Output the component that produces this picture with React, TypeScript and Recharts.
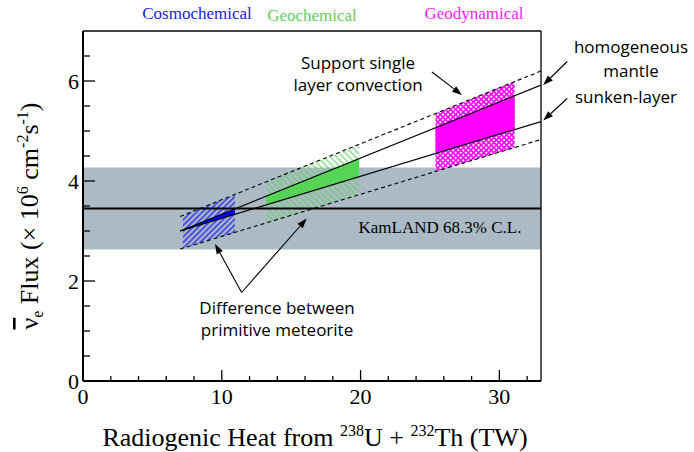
import React from "react";
import {
  ComposedChart,
  Area,
  Line,
  XAxis,
  YAxis,
  ReferenceArea,
  ReferenceLine,
} from "recharts";

// model lines (heat in TW, flux in 10^6 cm^-2 s^-1)
const lineHeat = [7, 33];
const homogeneousFlux = [3.0, 5.92];
const sunkenFlux = [3.0, 5.19];
const upperFlux = [3.29, 6.2];
const lowerFlux = [2.64, 4.83];

// Cosmochemical
const cosmoHeat = [7.2, 10.95];
const cosmoOuterLow = [2.66, 2.97];
const cosmoOuterHigh = [3.31, 3.73];
const cosmoCoreHeat = [7.0, 10.95];
const cosmoCoreLow = [3.0, 3.33];
const cosmoCoreHigh = [3.0, 3.44];

// Geochemical
const geoChemHeat = [13.2, 19.9];
const geoChemOuterLow = [3.16, 3.73];
const geoChemOuterHigh = [3.98, 4.73];
const geoChemCoreLow = [3.52, 4.09];
const geoChemCoreHigh = [3.7, 4.45];

// Geodynamical
const geoDynHeat = [25.4, 31.1];
const geoDynOuterLow = [4.19, 4.67];
const geoDynOuterHigh = [5.35, 5.99];
const geoDynCoreLow = [4.55, 5.03];
const geoDynCoreHigh = [5.07, 5.71];

// KamLAND measurement
const kamlandCentral = 3.45;
const kamlandLow = 2.63;
const kamlandHigh = 4.27;

const xTicks = [0, 2, 4, 6, 8, 10, 12, 14, 16, 18, 20, 22, 24, 26, 28, 30, 32];
const yTicks = [0, 0.5, 1, 1.5, 2, 2.5, 3, 3.5, 4, 4.5, 5, 5.5, 6, 6.5];

// arrows: [fromHeat, fromFlux, toHeat, toFlux]
const arrows = [
  [25.14, 6.18, 27.31, 5.72],
  [34.89, 6.39, 33.16, 5.92],
  [34.89, 5.65, 33.16, 5.21],
  [11.43, 1.77, 9.51, 2.74],
  [11.43, 1.77, 16.12, 3.25],
];

const SERIF = "'Liberation Serif', 'Times New Roman', serif";
const SANS = "'Open Sans', 'DejaVu Sans', sans-serif";

const toLine = (xs: number[], ys: number[]) => xs.map((x, i) => ({ x, y: ys[i] }));
const toRange = (xs: number[], lo: number[], hi: number[]) =>
  xs.map((x, i) => ({ x, range: [lo[i], hi[i]] }));

const XTick = (props: any) => {
  const { x, y, payload } = props;
  const v = payload.value;
  const major = v % 10 === 0;
  return (
    <g>
      <line x1={x} x2={x} y1={y} y2={y - (major ? 11 : 5)} stroke="#000" strokeWidth={1.3} />
      {major && (
        <text x={x} y={y + 23} textAnchor="middle" fontFamily={SERIF} fontSize={22} fill="#000">
          {v}
        </text>
      )}
    </g>
  );
};

const YTick = (props: any) => {
  const { x, y, payload } = props;
  const v = payload.value;
  const major = v % 2 === 0;
  return (
    <g>
      <line x1={x} x2={x + (major ? 12 : 7)} y1={y} y2={y} stroke="#000" strokeWidth={1.3} />
      {major && (
        <text x={x - 4} y={y + 8} textAnchor="end" fontFamily={SERIF} fontSize={22} fill="#000">
          {v}
        </text>
      )}
    </g>
  );
};

const Arrow = (props: any) => {
  const { x1, y1, x2, y2 } = props;
  const dx = x2 - x1;
  const dy = y2 - y1;
  const len = Math.sqrt(dx * dx + dy * dy) || 1;
  const ux = dx / len;
  const uy = dy / len;
  const hl = 10;
  const hw = 3.5;
  const bx = x2 - ux * hl;
  const by = y2 - uy * hl;
  return (
    <g>
      <line x1={x1} y1={y1} x2={bx} y2={by} stroke="#000" strokeWidth={1.1} />
      <polygon
        points={`${x2},${y2} ${bx - uy * hw},${by + ux * hw} ${bx + uy * hw},${by - ux * hw}`}
        fill="#000"
      />
    </g>
  );
};

export default function App() {
  return (
    <div style={{ position: "absolute", left: 0, top: 0 }}>
      <ComposedChart width={694} height={452} margin={{ top: 31, right: 153, bottom: 0, left: 0 }}>
        <defs>
          <pattern id="blueHatch" width="4" height="4" patternUnits="userSpaceOnUse" patternTransform="rotate(45)">
            <line x1="1" y1="0" x2="1" y2="4" stroke="#0000ff" strokeWidth="1.1" />
          </pattern>
          <pattern id="greenHatch" width="4.5" height="4.5" patternUnits="userSpaceOnUse" patternTransform="rotate(-45)">
            <line x1="1" y1="0" x2="1" y2="4.5" stroke="#5fd35f" strokeWidth="1.1" />
          </pattern>
          <pattern id="magentaCheck" width="3.6" height="3.6" patternUnits="userSpaceOnUse" patternTransform="rotate(45)">
            <rect width="3.6" height="3.6" fill="#ff00ff" />
            <rect x="0.8" y="0.8" width="2" height="2" fill="#ffffff" />
          </pattern>
        </defs>

        <XAxis
          type="number"
          dataKey="x"
          domain={[0, 33]}
          ticks={xTicks}
          interval={0}
          height={71}
          tickSize={0}
          tickMargin={0}
          tickLine={false}
          tick={<XTick />}
          axisLine={{ stroke: "#000", strokeWidth: 2 }}
          allowDataOverflow
        />
        <YAxis
          type="number"
          domain={[0, 7]}
          ticks={yTicks}
          interval={0}
          width={83}
          tickSize={0}
          tickMargin={0}
          tickLine={false}
          tick={<YTick />}
          axisLine={{ stroke: "#000", strokeWidth: 2 }}
          allowDataOverflow
        />

        <ReferenceArea y1={kamlandLow} y2={kamlandHigh} fill="#abbac4" fillOpacity={1} stroke="none" zIndex={-50} />

        <Area data={toRange(cosmoHeat, cosmoOuterLow, cosmoOuterHigh)} dataKey="range" type="linear" stroke="none" fill="url(#blueHatch)" fillOpacity={1} isAnimationActive={false} dot={false} activeDot={false} />
        <Area data={toRange(cosmoCoreHeat, cosmoCoreLow, cosmoCoreHigh)} dataKey="range" type="linear" stroke="none" fill="#0000ff" fillOpacity={1} isAnimationActive={false} dot={false} activeDot={false} />
        <Area data={toRange(geoChemHeat, geoChemOuterLow, geoChemOuterHigh)} dataKey="range" type="linear" stroke="none" fill="url(#greenHatch)" fillOpacity={1} isAnimationActive={false} dot={false} activeDot={false} />
        <Area data={toRange(geoChemHeat, geoChemCoreLow, geoChemCoreHigh)} dataKey="range" type="linear" stroke="none" fill="#55d455" fillOpacity={1} isAnimationActive={false} dot={false} activeDot={false} />
        <Area data={toRange(geoDynHeat, geoDynOuterLow, geoDynOuterHigh)} dataKey="range" type="linear" stroke="none" fill="url(#magentaCheck)" fillOpacity={1} isAnimationActive={false} dot={false} activeDot={false} />
        <Area data={toRange(geoDynHeat, geoDynCoreLow, geoDynCoreHigh)} dataKey="range" type="linear" stroke="none" fill="#ff00ff" fillOpacity={1} isAnimationActive={false} dot={false} activeDot={false} />

        <Line data={toLine(lineHeat, homogeneousFlux)} dataKey="y" type="linear" stroke="#000" strokeWidth={1.2} dot={false} activeDot={false} isAnimationActive={false} />
        <Line data={toLine(lineHeat, sunkenFlux)} dataKey="y" type="linear" stroke="#000" strokeWidth={1.2} dot={false} activeDot={false} isAnimationActive={false} />
        <Line data={toLine(lineHeat, upperFlux)} dataKey="y" type="linear" stroke="#000" strokeWidth={1.1} strokeDasharray="4 3" dot={false} activeDot={false} isAnimationActive={false} />
        <Line data={toLine(lineHeat, lowerFlux)} dataKey="y" type="linear" stroke="#000" strokeWidth={1.1} strokeDasharray="4 3" dot={false} activeDot={false} isAnimationActive={false} />

        <ReferenceLine y={kamlandCentral} stroke="#000" strokeWidth={2} zIndex={450} />
        <ReferenceLine y={7} stroke="#000" strokeWidth={1.3} zIndex={500} />
        <ReferenceLine x={33} stroke="#000" strokeWidth={1.3} zIndex={500} />

        {arrows.map((a, i) => (
          <ReferenceLine
            key={i}
            segment={[{ x: a[0], y: a[1] }, { x: a[2], y: a[3] }]}
            ifOverflow="visible"
            stroke="#000"
            shape={(p: any) => <Arrow {...p} />}
            zIndex={1500}
          />
        ))}

        <text x={440} y={233} textAnchor="middle" fontFamily={SERIF} fontSize={17} fill="#000">
          KamLAND 68.3% C.L.
        </text>

        <text x={197} y={19} textAnchor="middle" fontFamily={SERIF} fontSize={17} fill="#2020e8">Cosmochemical</text>
        <text x={312} y={20.5} textAnchor="middle" fontFamily={SERIF} fontSize={17} fill="#66cc66">Geochemical</text>
        <text x={474} y={19} textAnchor="middle" fontFamily={SERIF} fontSize={17} fill="#ff22ff">Geodynamical</text>

        <g fontFamily={SANS} fontSize={17} fill="#000" textAnchor="middle">
          <text x={358} y={69}>Support single</text>
          <text x={358} y={91}>layer convection</text>
          <text x={631} y={53}>homogeneous</text>
          <text x={631} y={77}>mantle</text>
          <text x={626} y={103}>sunken-layer</text>
          <text x={277} y={314}>Difference between</text>
          <text x={277} y={336}>primitive meteorite</text>
        </g>

        <text x={315} y={446} textAnchor="middle" fontFamily={SERIF} fontSize={26} fill="#000">
          Radiogenic Heat from <tspan dy={-10} fontSize={16}>238</tspan>
          <tspan dy={10}>U + </tspan>
          <tspan dy={-10} fontSize={16}>232</tspan>
          <tspan dy={10}>Th (TW)</tspan>
        </text>

        <text transform="translate(38,216) rotate(-90)" textAnchor="middle" fontFamily={SERIF} fontSize={26} fill="#000">
          <tspan textDecoration="overline">ν</tspan>
          <tspan dy={5} fontSize={16}>e</tspan>
          <tspan dy={-5}> Flux (× 10</tspan>
          <tspan dy={-10} fontSize={16}>6</tspan>
          <tspan dy={10}> cm</tspan>
          <tspan dy={-10} fontSize={16}>-2</tspan>
          <tspan dy={10}>s</tspan>
          <tspan dy={-10} fontSize={16}>-1</tspan>
          <tspan dy={10}>)</tspan>
        </text>
      </ComposedChart>
    </div>
  );
}
